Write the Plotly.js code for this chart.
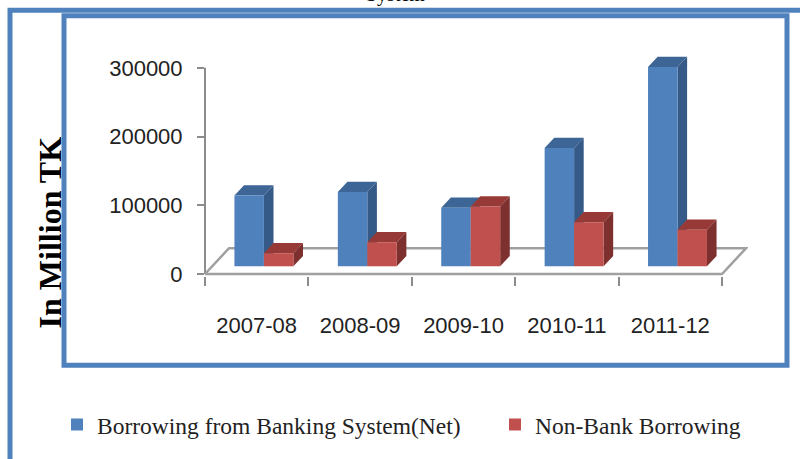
<!DOCTYPE html>
<html><head><meta charset="utf-8">
<script src="https://cdn.plot.ly/plotly-3.0.1.min.js"></script>
<style>html,body{margin:0;padding:0;background:#fff;}#chart{width:800px;height:459px;}</style>
</head><body><div id="chart"></div>
<script>
// ---- data ----
const categories = ['2007-08', '2008-09', '2009-10', '2010-11', '2011-12'];
const bankingNet = [103000, 108000, 85000, 172000, 290000];
const nonBank = [19000, 35000, 87000, 64000, 53000];
const seriesNames = ['Borrowing from Banking System(Net)', 'Non-Bank Borrowing'];
const yTickVals = [0, 100000, 200000, 300000];
const yTickText = ['0', '100000', '200000', '300000'];
const yTitle = 'In Million TK';
const titleFragment = 'System';

// ---- geometry / styling ----
const W = 800, H = 459;
const L = 205, R = 748, T = 50, B = 278;
const pw = R - L, ph = B - T;
const catPx = 103.4;
const xRange = [-0.5, -0.5 + pw / catPx];
const pxPerY = 208 / 300000;
const zeroPx = 276;
const yRange = [-(B - zeroPx) / pxPerY, (zeroPx - T) / pxPerY];
const ux = 1 / catPx, uy = 1 / pxPerY;
const floorD = {x: 24 * ux, y: 26 * uy};
const frontF = 0.3, backF = 0.7;
const barW = 0.285;
const bdx = (backF - frontF) * floorD.x, bdy = (backF - frontF) * floorD.y;
const baseY = frontF * floorD.y;
const fx = px => (px - L) / pw;
const fy = py => (B - py) / ph;

const colors = {
  front: ['#4F81BD', '#C0504D'],
  top:   ['#3D6596', '#973A37'],
  side:  ['#365A87', '#7E302E']
};
const offsets = [-barW + frontF * floorD.x, frontF * floorD.x];
const seriesVals = [bankingNet, nonBank];

const tickFont = {family: '"Liberation Sans", Arial, sans-serif', size: 22, color: '#222'};
const serif = '"Liberation Serif", "Times New Roman", serif';
const legendFont = {family: serif, size: 23.5, color: '#222'};

const traces = seriesVals.map((vals, s) => ({
  type: 'bar',
  name: seriesNames[s],
  legend: s === 0 ? 'legend' : 'legend2',
  x: categories,
  y: vals,
  base: vals.map(() => baseY),
  offset: offsets[s],
  width: barW,
  marker: {color: colors.front[s], line: {width: 0}},
  hoverinfo: 'x+y+name'
}));

const shapes = [];
// floor
const xEnd = categories.length - 0.5;
shapes.push({
  type: 'path', xref: 'x', yref: 'y', layer: 'below',
  path: `M -0.5,0 L ${xEnd},0 L ${xEnd + floorD.x},${floorD.y} L ${-0.5 + floorD.x},${floorD.y} Z`,
  fillcolor: '#FFFFFF', line: {color: '#A0A0A0', width: 2.5}
});
// value axis line
shapes.push({
  type: 'line', xref: 'paper', yref: 'y', layer: 'below',
  x0: 0, x1: 0, y0: 0, y1: yTickVals[yTickVals.length - 1],
  line: {color: '#8C8C8C', width: 2}
});
// 3D faces
categories.forEach((c, i) => {
  seriesVals.forEach((vals, s) => {
    const x0 = i + offsets[s], x1 = x0 + barW;
    const yb = baseY, yt = baseY + vals[i];
    shapes.push({
      type: 'path', xref: 'x', yref: 'y', layer: 'below',
      path: `M ${x0},${yt} L ${x1},${yt} L ${x1 + bdx},${yt + bdy} L ${x0 + bdx},${yt + bdy} Z`,
      fillcolor: colors.top[s], line: {width: 0}
    });
    shapes.push({
      type: 'path', xref: 'x', yref: 'y', layer: 'below',
      path: `M ${x1},${yb} L ${x1 + bdx},${yb + bdy} L ${x1 + bdx},${yt + bdy} L ${x1},${yt} Z`,
      fillcolor: colors.side[s], line: {width: 0}
    });
  });
});
// frames
shapes.push({
  type: 'rect', xref: 'paper', yref: 'paper', layer: 'above',
  x0: fx(64), x1: fx(787), y0: fy(368), y1: fy(15.5),
  line: {color: '#4F81BD', width: 5}, fillcolor: 'rgba(0,0,0,0)'
});
shapes.push({
  type: 'path', xref: 'paper', yref: 'paper', layer: 'above',
  path: `M ${fx(10)},${fy(490)} L ${fx(10)},${fy(10)} L ${fx(830)},${fy(10)}`,
  line: {color: '#4F81BD', width: 5}
});

const legendCommon = {
  orientation: 'h', xanchor: 'left', yanchor: 'middle', y: fy(428),
  font: legendFont, bgcolor: 'rgba(0,0,0,0)', borderwidth: 0
};

const layout = {
  width: W, height: H,
  margin: {l: L, r: W - R, t: T, b: H - B, pad: 0},
  paper_bgcolor: '#FFFFFF', plot_bgcolor: 'rgba(0,0,0,0)',
  barmode: 'overlay',
  showlegend: true,
  xaxis: {
    type: 'category', range: xRange, tickson: 'boundaries', tickangle: 0, automargin: false,
    ticks: 'outside', ticklen: 9, tickwidth: 2, tickcolor: '#8C8C8C',
    showline: false, showgrid: false, zeroline: false,
    tickfont: tickFont, ticklabelstandoff: 34, fixedrange: true
  },
  yaxis: {
    range: yRange, tickmode: 'array', tickvals: yTickVals, ticktext: yTickText, automargin: false,
    ticks: 'outside', ticklen: 7, tickwidth: 2, tickcolor: '#8C8C8C',
    showline: false, showgrid: false, zeroline: false,
    tickfont: tickFont, ticklabelstandoff: 10, fixedrange: true
  },
  legend: Object.assign({}, legendCommon, {x: fx(57)}),
  legend2: Object.assign({}, legendCommon, {x: fx(495)}),
  annotations: [
    {
      text: '<b>' + yTitle + '</b>', textangle: -90, showarrow: false,
      xref: 'paper', yref: 'paper', x: fx(50), y: fy(234), xanchor: 'center', yanchor: 'middle',
      font: {family: serif, size: 32, color: '#000'}
    },
    {
      text: titleFragment, showarrow: false,
      xref: 'paper', yref: 'paper', x: fx(395), y: fy(8), xanchor: 'center', yanchor: 'bottom',
      font: {family: serif, size: 20, color: '#000'}
    }
  ],
  shapes: shapes
};

Plotly.newPlot('chart', traces, layout, {displayModeBar: false, staticPlot: true});
</script>
</body></html>
